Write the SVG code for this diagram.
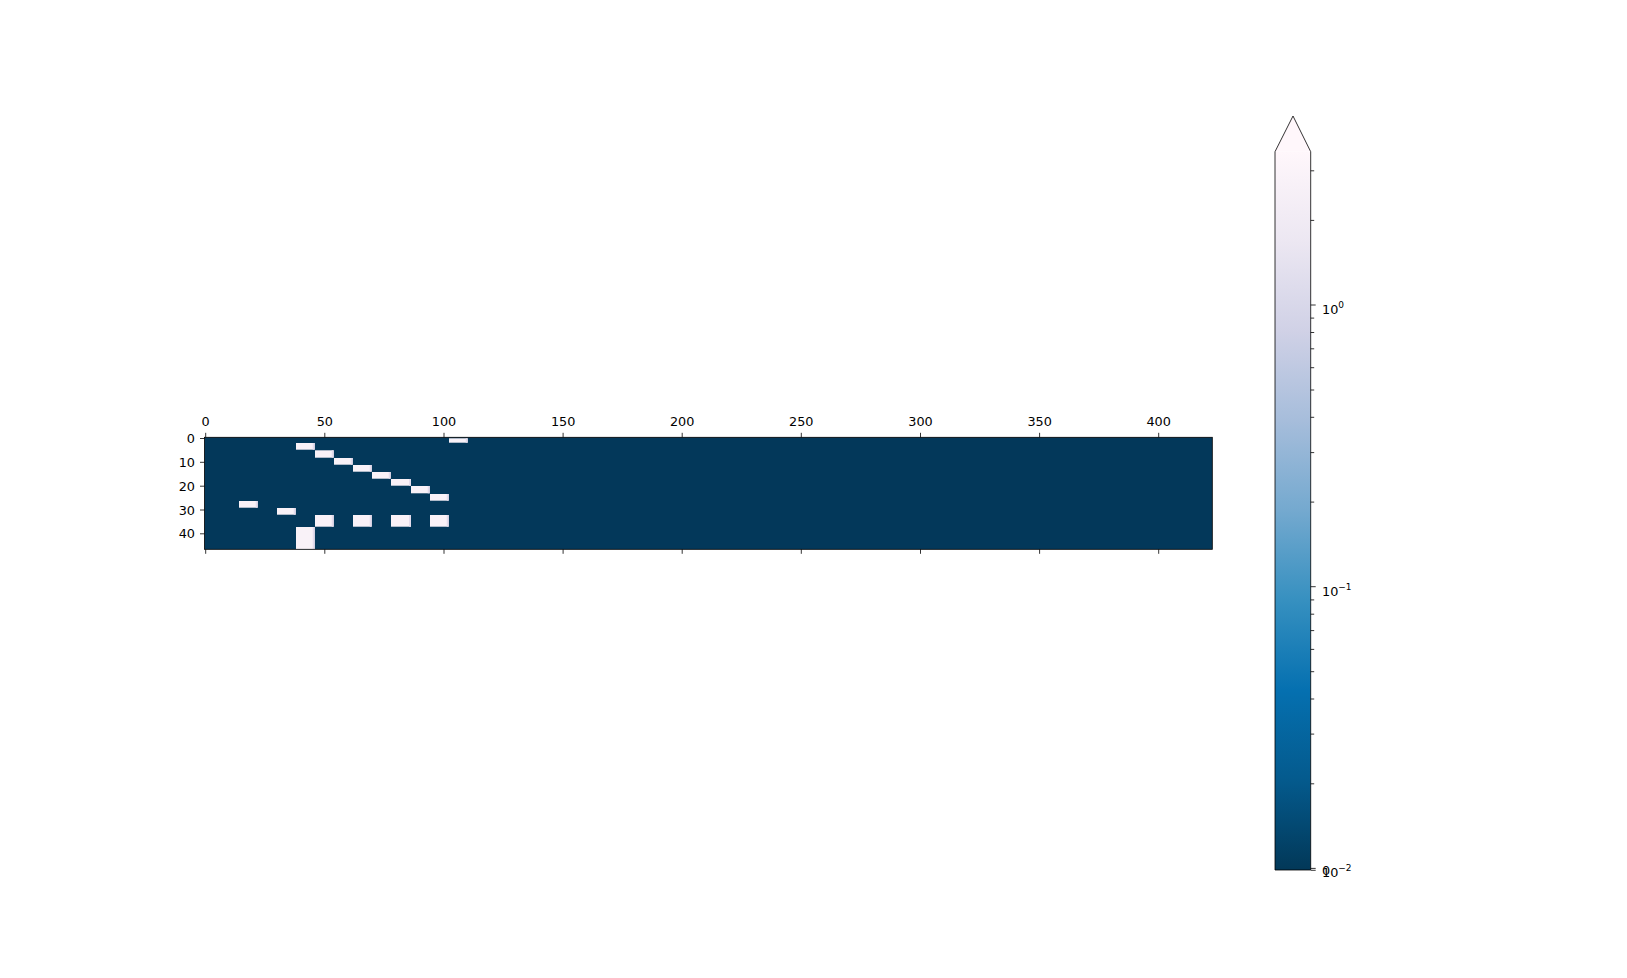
<svg xmlns="http://www.w3.org/2000/svg" width="1627" height="978" viewBox="0 0 1627 978">
<style>
text{font-family:"DejaVu Sans","Liberation Sans",sans-serif;font-size:12.8px;fill:#000}
.tk{stroke:#000;stroke-width:0.8;fill:none}
.blk{fill:#f9f2f8}
.edge{fill:#e4dced}
.sup{font-size:9px}
</style>
<defs>
<linearGradient id="pubu" gradientUnits="userSpaceOnUse" x1="0" y1="870" x2="0" y2="151.7">
<stop offset="0" stop-color="#023858"/>
<stop offset="0.125" stop-color="#045a8d"/>
<stop offset="0.25" stop-color="#0570b0"/>
<stop offset="0.375" stop-color="#3690c0"/>
<stop offset="0.5" stop-color="#74a9cf"/>
<stop offset="0.625" stop-color="#a6bddb"/>
<stop offset="0.75" stop-color="#d0d1e6"/>
<stop offset="0.875" stop-color="#ece7f2"/>
<stop offset="1" stop-color="#fff7fb"/>
</linearGradient>
</defs>
<rect width="1627" height="978" fill="#ffffff"/>

<g id="image">
<rect x="204.5" y="437.3" width="1007.8" height="112" fill="#03385a"/>
<g id="blocks">
<rect class="blk" x="296" y="443" width="18.7" height="6.7"/><rect class="edge" x="312.7" y="443" width="2" height="6.7"/>
<rect class="blk" x="315" y="450.3" width="18.7" height="7.4"/><rect class="edge" x="331.7" y="450.3" width="2" height="7.4"/>
<rect class="blk" x="334" y="458" width="18.7" height="6.7"/><rect class="edge" x="350.7" y="458" width="2" height="6.7"/>
<rect class="blk" x="353" y="465" width="18.7" height="6.7"/><rect class="edge" x="369.7" y="465" width="2" height="6.7"/>
<rect class="blk" x="372" y="472" width="18.7" height="6.7"/><rect class="edge" x="388.7" y="472" width="2" height="6.7"/>
<rect class="blk" x="391" y="479" width="20" height="6.7"/><rect class="edge" x="409" y="479" width="2" height="6.7"/>
<rect class="blk" x="411" y="486" width="18.7" height="7.3"/><rect class="edge" x="427.7" y="486" width="2" height="7.3"/>
<rect class="blk" x="430" y="494" width="18.7" height="6.7"/><rect class="edge" x="446.7" y="494" width="2" height="6.7"/>
<rect class="blk" x="449" y="438.3" width="18.7" height="4.4"/><rect class="edge" x="465.7" y="438.3" width="2" height="4.4"/>
<rect class="blk" x="239" y="501" width="18.7" height="6.7"/><rect class="edge" x="255.7" y="501" width="2" height="6.7"/>
<rect class="blk" x="277" y="508" width="18.7" height="6.7"/><rect class="edge" x="293.7" y="508" width="2" height="6.7"/>
<rect class="blk" x="315" y="515" width="18.7" height="11.7"/><rect class="edge" x="331.7" y="515" width="2" height="11.7"/>
<rect class="blk" x="353" y="515" width="18.7" height="11.7"/><rect class="edge" x="369.7" y="515" width="2" height="11.7"/>
<rect class="blk" x="391" y="515" width="20" height="11.7"/><rect class="edge" x="409" y="515" width="2" height="11.7"/>
<rect class="blk" x="430" y="515" width="18.7" height="11.7"/><rect class="edge" x="446.7" y="515" width="2" height="11.7"/>
<rect class="blk" x="296" y="527" width="18.7" height="22.3"/><rect class="edge" x="312.7" y="527" width="2" height="22.3"/>
</g>
<rect x="204.5" y="437.3" width="1007.8" height="112" fill="none" stroke="#000" stroke-width="0.8"/>
</g>

<g id="x-axis">
<path class="tk" d="M205.7 437.3v-4.5M324.8 437.3v-4.5M444 437.3v-4.5M563.1 437.3v-4.5M682.2 437.3v-4.5M801.3 437.3v-4.5M920.5 437.3v-4.5M1039.6 437.3v-4.5M1158.7 437.3v-4.5"/>
<path class="tk" d="M205.7 549.3v4.5M324.8 549.3v4.5M444 549.3v4.5M563.1 549.3v4.5M682.2 549.3v4.5M801.3 549.3v4.5M920.5 549.3v4.5M1039.6 549.3v4.5M1158.7 549.3v4.5"/>
<g text-anchor="middle">
<text x="205.7" y="425.7">0</text>
<text x="324.8" y="425.7">50</text>
<text x="444" y="425.7">100</text>
<text x="563.1" y="425.7">150</text>
<text x="682.2" y="425.7">200</text>
<text x="801.3" y="425.7">250</text>
<text x="920.5" y="425.7">300</text>
<text x="1039.6" y="425.7">350</text>
<text x="1158.7" y="425.7">400</text>
</g>
</g>

<g id="y-axis">
<path class="tk" d="M204.5 438.5h-4.5M204.5 462.3h-4.5M204.5 486.2h-4.5M204.5 510h-4.5M204.5 533.8h-4.5"/>
<g text-anchor="end">
<text x="195" y="443.1">0</text>
<text x="195" y="466.9">10</text>
<text x="195" y="490.8">20</text>
<text x="195" y="514.6">30</text>
<text x="195" y="538.4">40</text>
</g>
</g>

<g id="colorbar">
<rect x="1275" y="151.7" width="35.7" height="718.3" fill="url(#pubu)"/>
<path d="M1275 151.7L1293 116L1310.7 151.7Z" fill="#fff7fb"/>
<path d="M1275 870V151.7L1293 116L1310.7 151.7V870Z" fill="none" stroke="#000" stroke-width="0.8"/>
<path class="tk" d="M1310.7 305h5M1310.7 586.7h5M1310.7 868.4h5M1310.7 870.3h5"/>
<path class="tk" d="M1310.7 170.8h3.5M1310.7 220.4h3.5M1310.7 318.1h3.5M1310.7 332.5h3.5M1310.7 348.8h3.5M1310.7 367.7h3.5M1310.7 390h3.5M1310.7 417.3h3.5M1310.7 452.6h3.5M1310.7 502.1h3.5M1310.7 599.9h3.5M1310.7 614.2h3.5M1310.7 630.6h3.5M1310.7 649.4h3.5M1310.7 671.7h3.5M1310.7 699h3.5M1310.7 734.1h3.5M1310.7 783.8h3.5"/>
<text x="1322" y="313.5">10<tspan class="sup" dy="-6">0</tspan></text>
<text x="1322" y="595.5">10<tspan class="sup" dy="-6">−1</tspan></text>
<text x="1322" y="875">0</text>
<text x="1322" y="877">10<tspan class="sup" dy="-6">−2</tspan></text>
</g>
</svg>
